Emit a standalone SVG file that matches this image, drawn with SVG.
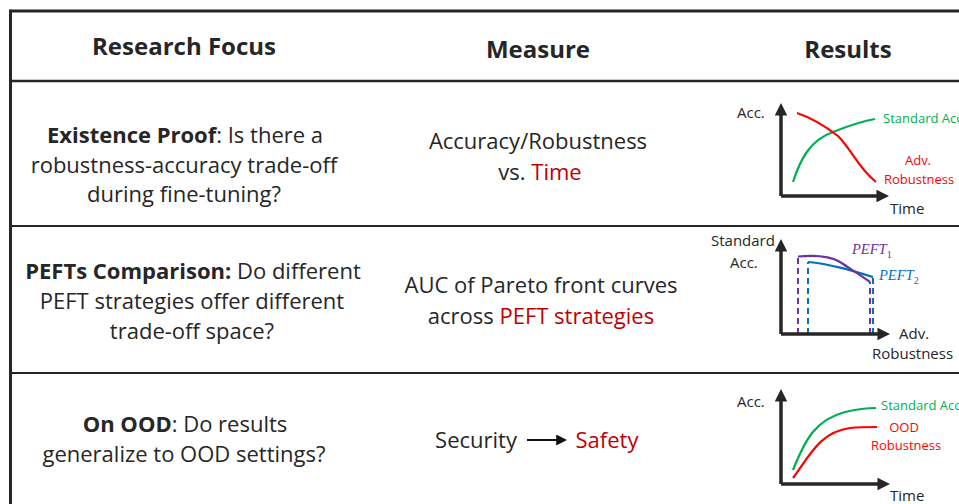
<svg xmlns="http://www.w3.org/2000/svg" width="959" height="504" viewBox="0 0 959 504">
  <style>
    .t { font-family: "Open Sans", Lato, "Liberation Sans", sans-serif; fill: #262626; }
    .hd { font-size: 24px; font-weight: bold; text-anchor: middle; }
    .body { font-size: 22px; text-anchor: middle; }
    .b { font-weight: bold; }
    .dr { fill: #C00000; }
    .lab { font-size: 15px; }
    .ser { font-size: 13px; }
    .grn { fill: #00B050; }
    .red { fill: #FF0000; }
    .math { font-family: "Liberation Serif", "DejaVu Serif", serif; font-style: italic; font-size: 14.5px; }
    .grid { stroke: #262626; fill: none; }
    .axis { stroke: #262626; stroke-width: 3.5; fill: none; }
    .crv { fill: none; stroke-width: 2.2; }
    .dash { fill: none; stroke-width: 2; stroke-dasharray: 6 4; }
  </style>
  <defs>
    <marker id="axhead" viewBox="0 0 10 10" refX="6" refY="5" markerWidth="3.6" markerHeight="3.6" orient="auto" markerUnits="strokeWidth">
      <path d="M0,0 L10,5 L0,10 Z" fill="#262626"/>
    </marker>
    <marker id="arrhead" viewBox="0 0 10 10" refX="8" refY="5" markerWidth="5" markerHeight="5" orient="auto" markerUnits="strokeWidth">
      <path d="M0,0 L10,5 L0,10 Z" fill="#111"/>
    </marker>
  </defs>

  <rect width="959" height="504" fill="#ffffff"/>

  <!-- table rules -->
  <g id="table-grid" class="grid">
    <path d="M10.5,11 H960" stroke-width="3"/>
    <path d="M10.5,9.5 V505" stroke-width="3"/>
    <path d="M10.5,81 H960" stroke-width="2.5"/>
    <path d="M10.5,226 H960" stroke-width="2"/>
    <path d="M10.5,373 H960" stroke-width="2"/>
  </g>

  <!-- header row -->
  <g id="header">
    <text class="t hd" x="184" y="55">Research Focus</text>
    <text class="t hd" x="538" y="58">Measure</text>
    <text class="t hd" x="848" y="58">Results</text>
  </g>

  <!-- row 1: existence proof -->
  <g id="row-existence">
    <text class="t body" x="185" y="143"><tspan class="b">Existence Proof</tspan>: Is there a</text>
    <text class="t body" x="184" y="173">robustness-accuracy trade-off</text>
    <text class="t body" x="184" y="202">during fine-tuning?</text>
    <text class="t body" x="538" y="149">Accuracy/Robustness</text>
    <text class="t body" x="540" y="180">vs. <tspan class="dr">Time</tspan></text>
  </g>

  <!-- row 1 chart: accuracy and robustness over time -->
  <g id="chart-time">
    <path class="axis" d="M781,196 V108" marker-end="url(#axhead)"/>
    <path class="axis" d="M781,196 H884" marker-end="url(#axhead)"/>
    <path class="crv" stroke="#00B050" d="M793,182 C800,160 810,140 833,132 C848,126 862,121 875,119"/>
    <path class="crv" stroke="#FF0000" d="M797,113 C812,118 825,126 838,136 C852,150 858,168 876,182"/>
    <text class="t lab" x="737" y="118">Acc.</text>
    <text class="t ser grn" x="883" y="123">Standard Acc</text>
    <text class="t ser red" x="918" y="165" text-anchor="middle">Adv.</text>
    <text class="t ser red" x="884" y="184">Robustness</text>
    <text class="t lab" x="890" y="214">Time</text>
  </g>

  <!-- row 2: PEFT comparison -->
  <g id="row-pefts">
    <text class="t body" x="193" y="279"><tspan class="b">PEFTs Comparison:</tspan> Do different</text>
    <text class="t body" x="192" y="309">PEFT strategies offer different</text>
    <text class="t body" x="192" y="339">trade-off space?</text>
    <text class="t body" x="541" y="293">AUC of Pareto front curves</text>
    <text class="t body" x="541" y="324">across <tspan class="dr">PEFT strategies</tspan></text>
  </g>

  <!-- row 2 chart: Pareto fronts of two PEFT methods -->
  <g id="chart-pareto">
    <path class="dash" stroke="#7030A0" d="M798,334 V257"/>
    <path class="dash" stroke="#7030A0" d="M870,334 V282"/>
    <path class="dash" stroke="#0070C0" d="M808,334 V262"/>
    <path class="dash" stroke="#0070C0" d="M873,334 V277"/>
    <path class="crv" stroke="#0070C0" d="M808,262 C830,264 850,270 873,277"/>
    <path class="crv" stroke="#7030A0" d="M798,256.5 C815,255 830,256 840,262 C852,270 862,276 870,282"/>
    <path class="axis" d="M781,334 V244" marker-end="url(#axhead)"/>
    <path class="axis" d="M781,334 H885" marker-end="url(#axhead)"/>
    <text class="t lab" x="711" y="246">Standard</text>
    <text class="t lab" x="730" y="268">Acc.</text>
    <text class="math" x="852" y="254" fill="#7030A0">PEFT<tspan font-style="normal" font-size="10" dy="4">1</tspan></text>
    <text class="math" x="879" y="280" fill="#0070C0">PEFT<tspan font-style="normal" font-size="10" dy="4">2</tspan></text>
    <text class="t lab" x="899" y="339">Adv.</text>
    <text class="t lab" x="872" y="359">Robustness</text>
  </g>

  <!-- row 3: out-of-distribution -->
  <g id="row-ood">
    <text class="t body" x="185" y="432"><tspan class="b">On OOD</tspan>: Do results</text>
    <text class="t body" x="184" y="462">generalize to OOD settings?</text>
  </g>

  <g id="measure-ood">
    <text class="t body" x="476" y="448">Security</text>
    <text class="t body dr" x="607" y="448">Safety</text>
  </g>

  <g id="connectors">
    <path d="M527,440 H565" stroke="#111" stroke-width="2.2" fill="none" marker-end="url(#arrhead)"/>
  </g>

  <!-- row 3 chart: standard vs OOD accuracy over time -->
  <g id="chart-ood">
    <path class="axis" d="M781,484 V394" marker-end="url(#axhead)"/>
    <path class="axis" d="M781,484 H885" marker-end="url(#axhead)"/>
    <path class="crv" stroke="#00B050" d="M793,470 C805,440 815,420 845,412 C858,409 866,408 876,408"/>
    <path class="crv" stroke="#FF0000" d="M793,478 C810,455 820,432 850,428 C860,427 870,427 877,427"/>
    <text class="t lab" x="737" y="407">Acc.</text>
    <text class="t ser grn" x="881" y="410">Standard Acc</text>
    <text class="t ser red" x="904" y="432" text-anchor="middle">OOD</text>
    <text class="t ser red" x="871" y="450">Robustness</text>
    <text class="t lab" x="890" y="501">Time</text>
  </g>
</svg>
